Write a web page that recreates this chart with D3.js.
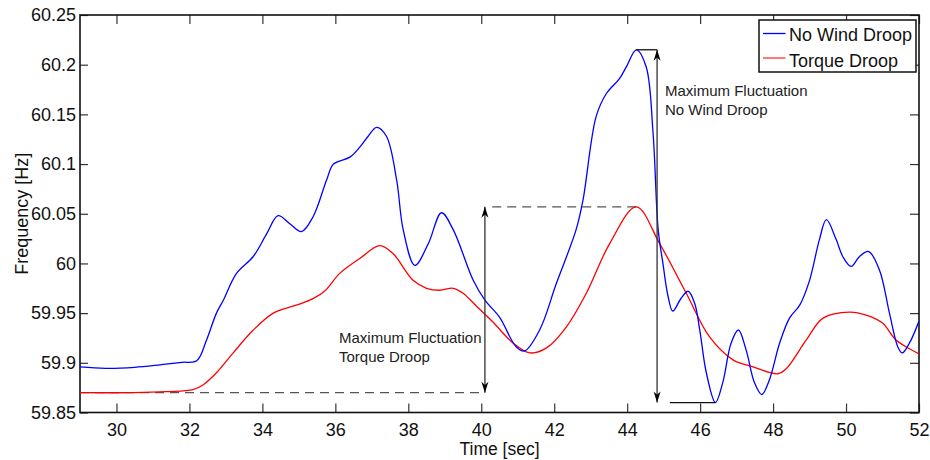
<!DOCTYPE html>
<html>
<head>
<meta charset="utf-8">
<script src="https://cdn.jsdelivr.net/npm/d3@7"></script>
<style>
  body { margin: 0; background: #fff; }
  svg { display: block; font-family: "Liberation Sans", Arial, sans-serif; }
  .tick text { font-size: 18px; fill: #111; }
  .tick line { stroke: #333; stroke-width: 1.2; }
  .note { font-size: 15px; fill: #222; }
</style>
</head>
<body>
<div id="chart"></div>
<script>
// data
const windTime = [29, 29.7, 30.5, 31.2, 31.8, 32.2, 32.47, 32.74, 32.93, 33.29, 33.75, 34.12, 34.43, 34.75, 35.07, 35.39, 35.76, 35.95, 36.4, 36.67, 36.9, 37.13, 37.4, 37.68, 37.86, 38.18, 38.55, 38.91, 39.23, 39.78, 40.1, 40.5, 40.96, 41.19, 41.6, 42.06, 42.6, 42.79, 43.15, 43.43, 43.79, 43.98, 44.25, 44.52, 44.71, 44.85, 44.98, 45.12, 45.25, 45.48, 45.67, 45.85, 45.99, 46.17, 46.42, 46.62, 46.85, 47.05, 47.26, 47.49, 47.69, 47.9, 48.18, 48.45, 48.73, 49.0, 49.27, 49.46, 49.73, 49.91, 50.14, 50.37, 50.62, 50.92, 51.19, 51.42, 51.54, 51.74, 52];
const windFreq = [59.896, 59.8945, 59.8955, 59.898, 59.9005, 59.902, 59.923, 59.95, 59.963, 59.99, 60.007, 60.03, 60.048, 60.04, 60.032, 60.047, 60.084, 60.1, 60.107, 60.117, 60.128, 60.137, 60.128, 60.084, 60.034, 59.998, 60.02, 60.051, 60.034, 59.983, 59.963, 59.946, 59.916, 59.912, 59.933, 59.98, 60.034, 60.064, 60.148, 60.171, 60.186, 60.198, 60.215, 60.198, 60.131, 60.034, 60.0, 59.967, 59.952, 59.965, 59.972, 59.96, 59.933, 59.89, 59.86, 59.88, 59.92, 59.933, 59.913, 59.88, 59.868, 59.883, 59.92, 59.945, 59.958, 59.983, 60.024, 60.044, 60.024, 60.007, 59.997, 60.007, 60.012, 59.993, 59.95, 59.916, 59.91, 59.92, 59.942];

const torqueTime = [29, 30.46, 31.37, 32.1, 32.38, 32.74, 33.2, 33.75, 34.3, 34.84, 35.3, 35.7, 36.12, 36.67, 37.22, 37.58, 38.13, 38.5, 38.86, 39.23, 39.5, 39.87, 40.32, 40.87, 41.33, 41.79, 42.33, 42.88, 43.52, 44.25, 44.89, 45.62, 46.26, 46.9, 47.45, 48.13, 48.36, 48.91, 49.37, 50.1, 50.55, 51.0, 51.37, 52];
const torqueFreq = [59.87, 59.87, 59.871, 59.873, 59.878, 59.89, 59.91, 59.933, 59.95, 59.957, 59.963, 59.972, 59.99, 60.005, 60.018, 60.01, 59.983, 59.975, 59.973, 59.975, 59.97, 59.957, 59.941, 59.92, 59.91, 59.915, 59.936, 59.97, 60.02, 60.057, 60.02, 59.97, 59.926, 59.903, 59.896, 59.889, 59.894, 59.923, 59.945, 59.951, 59.948, 59.94, 59.923, 59.909];

const xTicks = [30, 32, 34, 36, 38, 40, 42, 44, 46, 48, 50, 52];
const yTicks = [59.85, 59.9, 59.95, 60, 60.05, 60.1, 60.15, 60.2, 60.25];
const seriesNames = ['No Wind Droop', 'Torque Droop'];
const seriesColors = ['#0000ff', '#ff0000'];
const legendColors = ['#0000ff', '#ff6a6a'];

// annotation values (time, frequency)
const torqueArrow = {t: 40.1, lo: 59.87, hi: 60.057, dashLo: [29, 39.96], dashHi: [40.3, 44.25]};
const windArrow = {t: 44.82, lo: 59.86, hi: 60.215, capHi: [44.25, 44.82], capLo: [45.17, 46.42]};

const width = 930, height = 460;
const margin = {top: 15, right: 11, bottom: 47.5, left: 80};

const svg = d3.select('#chart').append('svg')
  .attr('width', width)
  .attr('height', height);

const x = d3.scaleLinear().domain([29, 52]).range([margin.left, width - margin.right]);
const y = d3.scaleLinear().domain([59.85, 60.25]).range([height - margin.bottom, margin.top]);

// axes (ticks point inward, MATLAB box)
svg.append('g')
  .attr('transform', `translate(0,${y(59.85)})`)
  .call(d3.axisBottom(x).tickValues(xTicks).tickSizeInner(-9).tickSizeOuter(0).tickPadding(11))
  .call(g => g.select('.domain').remove());
svg.append('g')
  .attr('transform', `translate(${x(29)},0)`)
  .call(d3.axisLeft(y).tickValues(yTicks).tickSizeInner(-8).tickSizeOuter(0).tickPadding(4)
    .tickFormat(d => String(+d.toFixed(2))))
  .call(g => g.select('.domain').remove());
svg.append('g')
  .attr('transform', `translate(0,${y(60.25)})`)
  .call(d3.axisTop(x).tickValues(xTicks).tickSizeInner(-9).tickSizeOuter(0).tickFormat(''))
  .call(g => g.select('.domain').remove());
svg.append('g')
  .attr('transform', `translate(${x(52)},0)`)
  .call(d3.axisRight(y).tickValues(yTicks).tickSizeInner(-9).tickSizeOuter(0).tickFormat(''))
  .call(g => g.select('.domain').remove());

svg.append('rect')
  .attr('x', x(29)).attr('y', y(60.25))
  .attr('width', x(52) - x(29)).attr('height', y(59.85) - y(60.25))
  .attr('fill', 'none').attr('stroke', '#111').attr('stroke-width', 1.6);

// axis titles
svg.append('text')
  .attr('x', (x(29) + x(52)) / 2).attr('y', 455)
  .attr('text-anchor', 'middle').style('font-size', '17.5px').attr('fill', '#111')
  .text('Time [sec]');
svg.append('text')
  .attr('transform', `translate(28,${(y(59.85) + y(60.25)) / 2}) rotate(-90)`)
  .attr('text-anchor', 'middle').style('font-size', '18px').attr('fill', '#111')
  .text('Frequency [Hz]');

// dashed reference lines
const dashG = svg.append('g').attr('stroke', '#555').attr('stroke-width', 1.3).attr('stroke-dasharray', '9,6');
dashG.append('line')
  .attr('x1', x(torqueArrow.dashLo[0])).attr('x2', x(torqueArrow.dashLo[1]))
  .attr('y1', y(torqueArrow.lo)).attr('y2', y(torqueArrow.lo));
dashG.append('line')
  .attr('x1', x(torqueArrow.dashHi[0])).attr('x2', x(torqueArrow.dashHi[1]))
  .attr('y1', y(torqueArrow.hi)).attr('y2', y(torqueArrow.hi));

// curves
const line = d3.line().curve(d3.curveCatmullRom.alpha(0.5));
const windPts = windTime.map((t, i) => [x(t), y(windFreq[i])]);
const torquePts = torqueTime.map((t, i) => [x(t), y(torqueFreq[i])]);

svg.append('defs').append('clipPath').attr('id', 'clip')
  .append('rect')
  .attr('x', x(29)).attr('y', y(60.25))
  .attr('width', x(52) - x(29)).attr('height', y(59.85) - y(60.25));

svg.append('path')
  .attr('d', line(torquePts))
  .attr('clip-path', 'url(#clip)')
  .attr('fill', 'none').attr('stroke', seriesColors[1]).attr('stroke-width', 1.3);
svg.append('path')
  .attr('d', line(windPts))
  .attr('clip-path', 'url(#clip)')
  .attr('fill', 'none').attr('stroke', seriesColors[0]).attr('stroke-width', 1.3);

// arrows
function arrowHead(px, py, dir) {
  // dir: -1 up, 1 down
  const L = 11, W = 3.5;
  return `M${px},${py} L${px - W},${py - dir * L} L${px},${py - dir * L * 0.7} L${px + W},${py - dir * L} Z`;
}
function drawArrow(tx, v1, v2, both) {
  const px = x(tx);
  svg.append('line')
    .attr('x1', px).attr('x2', px).attr('y1', y(v1)).attr('y2', y(v2))
    .attr('stroke', '#333').attr('stroke-width', 1.3);
  svg.append('path').attr('d', arrowHead(px, y(v1), 1)).attr('fill', '#000');
  if (both) svg.append('path').attr('d', arrowHead(px, y(v2), -1)).attr('fill', '#000');
}
drawArrow(torqueArrow.t, torqueArrow.lo, torqueArrow.hi, true);
drawArrow(windArrow.t, windArrow.lo, windArrow.hi, true);

const capG = svg.append('g').attr('stroke', '#111').attr('stroke-width', 1.3);
capG.append('line')
  .attr('x1', x(windArrow.capHi[0])).attr('x2', x(windArrow.capHi[1]))
  .attr('y1', y(windArrow.hi)).attr('y2', y(windArrow.hi));
capG.append('line')
  .attr('x1', x(windArrow.capLo[0])).attr('x2', x(windArrow.capLo[1]))
  .attr('y1', y(windArrow.lo)).attr('y2', y(windArrow.lo));

// annotation text
const noteTorque = svg.append('text').attr('class', 'note').attr('x', 339).attr('y', 343);
noteTorque.append('tspan').attr('x', 339).text('Maximum Fluctuation');
noteTorque.append('tspan').attr('x', 339).attr('dy', 19).text('Torque Droop');
const noteWind = svg.append('text').attr('class', 'note').attr('x', 665).attr('y', 96);
noteWind.append('tspan').attr('x', 665).text('Maximum Fluctuation');
noteWind.append('tspan').attr('x', 665).attr('dy', 19).text('No Wind Droop');

// legend
const legend = svg.append('g').attr('transform', 'translate(759,20)');
legend.append('rect')
  .attr('width', 157).attr('height', 52)
  .attr('fill', '#fff').attr('stroke', '#111').attr('stroke-width', 1.5);
seriesNames.forEach(function(name, i) {
  legend.append('line')
    .attr('x1', 4).attr('x2', 26.5)
    .attr('y1', 13.5 + i * 24.5).attr('y2', 13.5 + i * 24.5)
    .attr('stroke', legendColors[i]).attr('stroke-width', i ? 1.8 : 1.3);
  legend.append('text')
    .attr('x', 30).attr('y', 20.7 + i * 26)
    .style('font-size', '18px').attr('fill', '#111')
    .text(name);
});
</script>
</body>
</html>
